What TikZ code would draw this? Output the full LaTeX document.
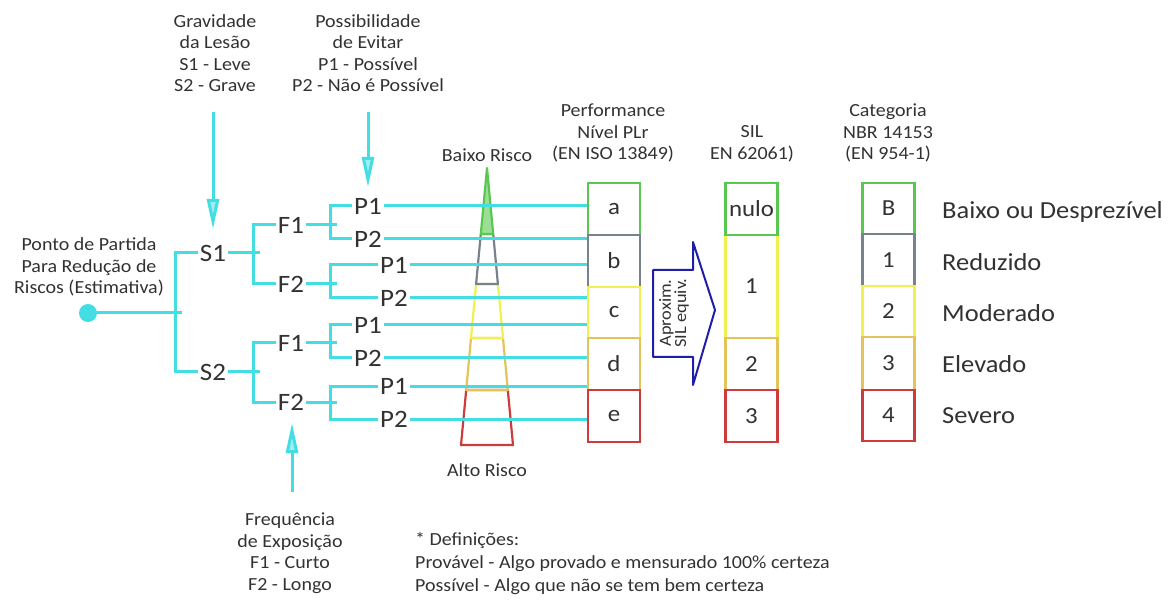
\documentclass[tikz,border=0pt]{standalone}
\usepackage{fontspec}
\setmainfont{Carlito}[FakeStretch=1.08]
\usetikzlibrary{arrows.meta}
\definecolor{tl}{RGB}{66,222,228}
\definecolor{tlL}{RGB}{160,238,240}
\definecolor{txt}{RGB}{50,50,50}
\definecolor{cgreen}{RGB}{90,200,80}
\definecolor{cgray}{RGB}{120,130,140}
\definecolor{cyellow}{RGB}{240,240,80}
\definecolor{corange}{RGB}{228,195,90}
\definecolor{cred}{RGB}{205,60,60}
\definecolor{cblue}{RGB}{30,30,170}
\begin{document}
\begin{tikzpicture}[x=1pt,y=-1pt,
  tline/.style={draw=tl, line width=3pt},
  tarrow/.style={draw=tl, line width=3pt, -{Triangle[length=30pt,width=12pt,fill=tlL]}},
  hdr/.style={align=center, text=txt, font=\fontsize{18.5}{21.5}\selectfont, inner sep=0pt},
  tree/.style={text=txt, font=\fontsize{25}{26}\selectfont, inner sep=2pt},
  boxn/.style={draw=#1, line width=2.5pt, minimum width=52pt, text=txt, font=\fontsize{23}{25}\selectfont, inner sep=0pt},
  rlab/.style={anchor=west, text=txt, font=\fontsize{24.5}{26}\selectfont, inner sep=0pt},
  seg/.style={draw=#1, line width=2.2pt, line join=round}
]
\useasboundingbox (0,0) rectangle (1175,601);

% headers
\node[hdr] (hG) at (215,53) {Gravidade\\da Lesão\\S1 - Leve\\S2 - Grave};
\node[hdr] (hP) at (368,53) {Possibilidade\\de Evitar\\P1 - Possível\\P2 - Não é Possível};
\node[hdr] (hPL) at (613,133) {Performance\\Nível PLr\\(EN ISO 13849)};
\node[hdr] (hSIL) at (752,144) {SIL\\EN 62061)};
\node[hdr] (hCat) at (888,133) {Categoria\\NBR 14153\\(EN 954-1)};
\node[hdr] (hBR) at (487,155) {Baixo Risco};
\node[hdr] (hAR) at (487,470) {Alto Risco};
\node[hdr] (hF) at (290,553) {Frequência\\de Exposição\\F1 - Curto\\F2 - Longo};
\node[hdr, align=left, anchor=west, font=\fontsize{18.5}{23}\selectfont] (defs) at (415,564) {* Definições:\\Provável - Algo provado e mensurado 100\% certeza\\Possível - Algo que não se tem bem certeza};
\node[hdr] (hRoot) at (89,267) {Ponto de Partida\\Para Redução de\\Riscos (Estimativa)};

% pyramid
\draw[seg=cred] (466.2,390) -- (507.8,390) -- (513,445) -- (461,445) -- cycle;
\draw[seg=corange] (471,338) -- (503,338) -- (507.8,390) -- (466.2,390) -- cycle;
\draw[seg=cyellow] (476.1,284) -- (497.9,284) -- (503,338) -- (471,338) -- cycle;
\draw[seg=cgray] (480.8,234) -- (493.2,234) -- (497.9,284) -- (476.1,284) -- cycle;
\draw[seg=cgreen, fill=cgreen!60] (487,168) -- (493.2,234) -- (480.8,234) -- cycle;

% tree nodes
\node[circle, fill=tl, minimum size=18pt, inner sep=0pt] (root) at (88,313) {};
\node[tree] (S1) at (213,253) {S1};
\node[tree] (S2) at (213,372) {S2};
\node[tree] (F1a) at (291,225) {F1};
\node[tree] (F2a) at (291,284) {F2};
\node[tree] (F1b) at (291,343) {F1};
\node[tree] (F2b) at (291,402) {F2};
\node[tree] (P1a) at (368,206) {P1};
\node[tree] (P2a) at (368,239) {P2};
\node[tree] (P1b) at (394,265) {P1};
\node[tree] (P2b) at (394,298) {P2};
\node[tree] (P1c) at (368,325) {P1};
\node[tree] (P2c) at (368,358) {P2};
\node[tree] (P1d) at (394,386) {P1};
\node[tree] (P2d) at (394,419) {P2};

% boxes PLr
\node[boxn=cgreen, minimum height=52pt] (ba) at (614,209) {a};
\node[boxn=cgray, minimum height=52pt] (bb) at (614,261) {b};
\node[boxn=cyellow, minimum height=51pt] (bc) at (614,312.5) {c};
\node[boxn=corange, minimum height=52pt] (bd) at (614,364) {d};
\node[boxn=cred, minimum height=52pt] (be) at (614,416) {e};
% SIL
\node[boxn=cyellow, minimum height=103pt] (s1) at (751.5,286.5) {1};
\node[boxn=cgreen, minimum height=52pt] (s0) at (751.5,209) {nulo};
\node[boxn=corange, minimum height=52pt] (s2) at (751.5,364) {2};
\node[boxn=cred, minimum height=52pt] (s3) at (751.5,416) {3};
% Categoria
\node[boxn=cgreen, minimum height=51pt] (cB) at (888.5,208.5) {B};
\node[boxn=cgray, minimum height=52pt] (c1) at (888.5,260) {1};
\node[boxn=cyellow, minimum height=51pt] (c2) at (888.5,311.5) {2};
\node[boxn=corange, minimum height=53pt] (c3) at (888.5,363.5) {3};
\node[boxn=cred, minimum height=51pt] (c4) at (888.5,415.5) {4};
\node[rlab] (lB) at (942,212) {Baixo ou Desprezível};
\node[rlab] (l1) at (942,262) {Reduzido};
\node[rlab] (l2) at (942,313) {Moderado};
\node[rlab] (l3) at (942,364) {Elevado};
\node[rlab] (l4) at (942,416) {Severo};

% tree connectors
\draw[tline] (root.center) -- (182,313);
\draw[tline] (S1.west) -| (175,313) |- (S2.west);
\draw[tline] (S1.east) -- (260,253);
\draw[tline] (S2.east) -- (260,372);
\draw[tline] (F1a.west) -| (253,253) |- (F2a.west);
\draw[tline] (F1b.west) -| (253,372) |- (F2b.west);
\draw[tline] (F1a.east) -- (337,225);
\draw[tline] (F2a.east) -- (337,284);
\draw[tline] (F1b.east) -- (337,343);
\draw[tline] (F2b.east) -- (337,402);
\draw[tline] (P1a.west) -| (330,225) |- (P2a.west);
\draw[tline] (P1b.west) -| (330,284) |- (P2b.west);
\draw[tline] (P1c.west) -| (330,343) |- (P2c.west);
\draw[tline] (P1d.west) -| (330,402) |- (P2d.west);

% output lines
\draw[tline] (P1a.east) -- (P1a.east -| ba.west);
\draw[tline] (P2a.east) -- (P2a.east -| bb.west);
\draw[tline] (P1b.east) -- (P1b.east -| bb.west);
\draw[tline] (P2b.east) -- (P2b.east -| bc.west);
\draw[tline] (P1c.east) -- (P1c.east -| bc.west);
\draw[tline] (P2c.east) -- (P2c.east -| bd.west);
\draw[tline] (P1d.east) -- (P1d.east -| bd.west);
\draw[tline] (P2d.east) -- (P2d.east -| be.west);

% indicator arrows
\coordinate (aG) at (213,112);
\coordinate (tG) at (213,229);
\coordinate (aP) at (368,112);
\coordinate (tP) at (368,187);
\coordinate (aF) at (292,492);
\coordinate (tF) at (292,423);
\draw[tarrow] (aG) -- (tG);
\draw[tarrow] (aP) -- (tP);
\draw[tarrow] (aF) -- (tF);

% blue arrow
\draw[draw=cblue, line width=2pt, fill=white, line join=round] (653,270) -- (693,270) -- (693,242) -- (715,310) -- (693,385) -- (693,357) -- (653,357) -- cycle;
\node[rotate=90, align=center, text=txt, font=\fontsize{17}{13.5}\selectfont, inner sep=0pt] (approx) at (674,313) {Aproxim.\\SIL equiv.};
\end{tikzpicture}
\end{document}
